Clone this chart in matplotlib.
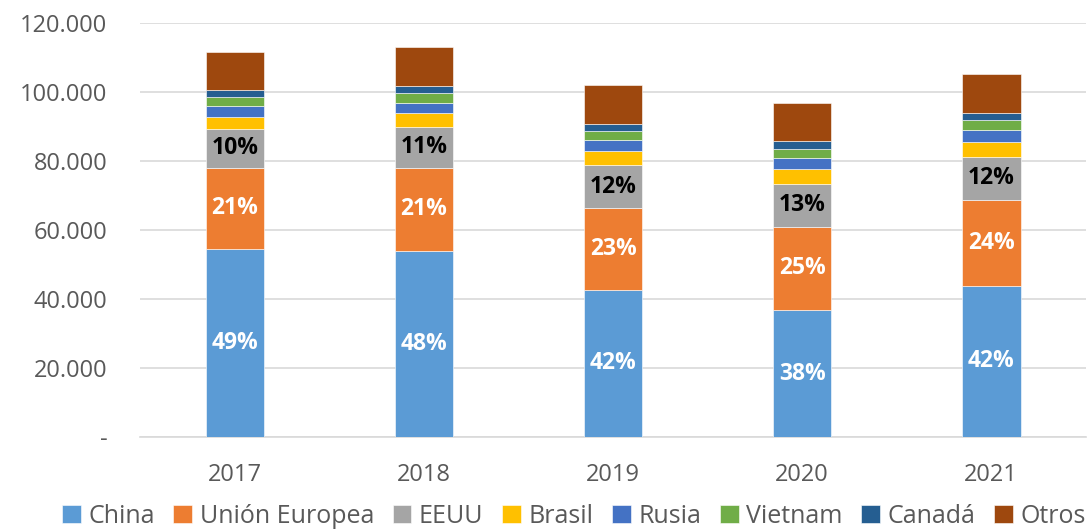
import numpy as np
import matplotlib.pyplot as plt

plt.rcParams['font.family'] = ['Open Sans', 'DejaVu Sans']

years = ['2017', '2018', '2019', '2020', '2021']
series = ['China', 'Unión Europea', 'EEUU', 'Brasil', 'Rusia', 'Vietnam', 'Canadá', 'Otros']
china = [54500, 53900, 42600, 36700, 43900]
ue = [23500, 24100, 23800, 24300, 24900]
eeuu = [11300, 11900, 12400, 12300, 12400]
brasil = [3500, 3900, 4100, 4300, 4300]
rusia = [3000, 3100, 3300, 3400, 3600]
vietnam = [2800, 2900, 2500, 2500, 2800]
canada = [1900, 1900, 1900, 2200, 2100]
otros = [11000, 11300, 11400, 11000, 11100]
colors = ['#5B9BD5', '#ED7D31', '#A5A5A5', '#FFC000', '#4472C4', '#70AD47', '#255E91', '#9E480E']
yticks = [0, 20000, 40000, 60000, 80000, 100000, 120000]
ytick_labels = ['-', '20.000', '40.000', '60.000', '80.000', '100.000', '120.000']

data = np.array([china, ue, eeuu, brasil, rusia, vietnam, canada, otros], dtype=float)
totals = data.sum(axis=0)

fig = plt.figure(figsize=(10.89, 5.29), dpi=100)
ax = fig.add_axes([0.129, 0.174, 0.868, 0.7825])

x = np.arange(len(years))
bottom = np.zeros(len(years))
for i, name in enumerate(series):
    ax.bar(x, data[i], 0.31, bottom=bottom, color=colors[i], label=name,
           edgecolor='white', linewidth=0.4, zorder=3)
    if i < 3:
        txt_color = 'white' if i < 2 else 'black'
        for j in range(len(years)):
            pct = data[i][j] / totals[j] * 100
            ax.text(x[j], bottom[j] + data[i][j] / 2, '%d%%' % round(pct),
                    ha='center', va='center', color=txt_color,
                    fontsize=16.5, fontweight='bold', zorder=4)
    bottom += data[i]

ax.set_xlim(-0.5, 4.5)
ax.set_ylim(0, 120000)
ax.set_xticks(x)
ax.set_xticklabels(years, fontsize=17, color='#595959')
ax.set_yticks(yticks)
ax.set_yticklabels(ytick_labels, fontsize=17, color='#595959')
ax.tick_params(axis='x', length=0, pad=19)
ax.tick_params(axis='y', length=0, pad=24)
ax.grid(axis='y', color='#D9D9D9', linewidth=1.2, zorder=0)
for s in ['top', 'right', 'left']:
    ax.spines[s].set_visible(False)
ax.spines['bottom'].set_color('#D9D9D9')
ax.spines['bottom'].set_linewidth(1.2)

h, l = ax.get_legend_handles_labels()
fig.legend(h, l, loc='center', bbox_to_anchor=(0.527, 0.024), ncol=8, frameon=False,
           fontsize=18, handlelength=0.75, handleheight=0.75, handletextpad=0.3,
           columnspacing=0.75, labelcolor='#595959', borderpad=0)

fig.savefig('out.png', dpi=100)
